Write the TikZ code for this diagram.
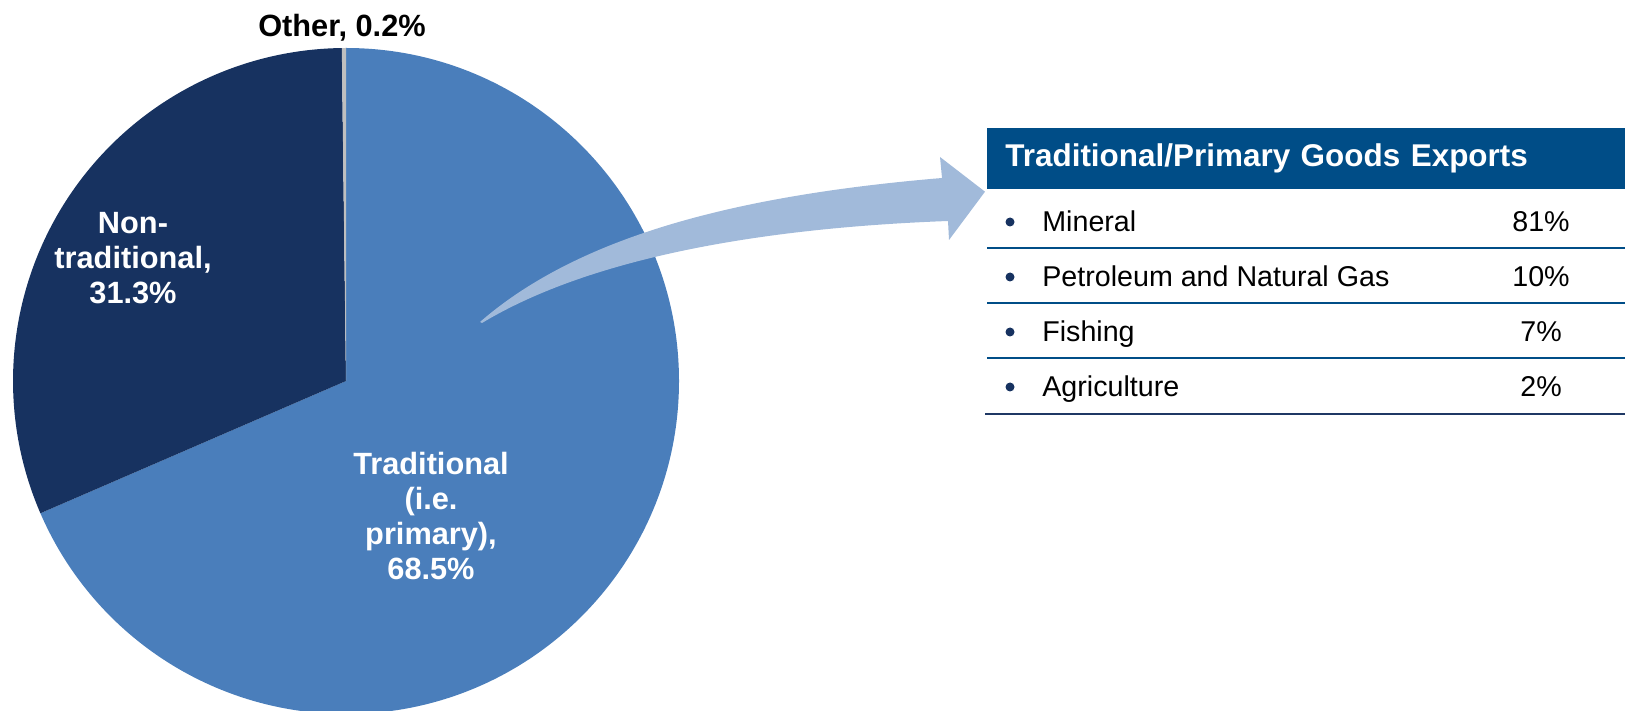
\documentclass[tikz,border=0pt]{standalone}
\usepackage{fontspec}
\setmainfont{Liberation Sans}
\usetikzlibrary{positioning}
\definecolor{tradblue}{RGB}{74,126,187}
\definecolor{nontradblue}{RGB}{23,50,96}
\definecolor{othergray}{RGB}{191,191,191}
\definecolor{arrowblue}{RGB}{161,186,218}
\definecolor{hdrblue}{RGB}{0,77,135}
\definecolor{rulenavy}{RGB}{31,56,100}

\begin{document}
\begin{tikzpicture}[x=0.02cm,y=0.02cm,
   pielabel/.style={font=\bfseries\fontsize{17.5}{19.8}\selectfont,text=white,align=center,inner sep=0pt},
   rowtext/.style={font=\fontsize{16.3}{19}\selectfont,inner sep=0pt}]
   \useasboundingbox (0,0) rectangle (1625,710);
   % pie
   \coordinate (c) at (346,329);
   \fill[tradblue] (c) -- ++(90:333) arc[start angle=90,end angle=-156.6,radius=333] -- cycle;
   \fill[nontradblue] (c) -- ++(203.4:333) arc[start angle=203.4,end angle=90.72,radius=333] -- cycle;
   \fill[othergray] (c) -- ++(90.72:333) arc[start angle=90.72,end angle=90,radius=333] -- cycle;
   \node[pielabel] (nontrad) at (133,452) {Non-\\traditional,\\31.3\%};
   \node[pielabel] (trad) at (431,194) {Traditional\\(i.e.\\primary),\\68.5\%};
   \node[pielabel,text=black,anchor=base] (other) at (342,673) {Other, 0.2\%};
   % table
   \node[fill=hdrblue,text=white,anchor=north west,minimum width=12.76cm,minimum height=1.22cm,
         inner xsep=0.36cm,text width=12.04cm,align=left,
         font=\bfseries\fontsize{17.9}{20}\selectfont] (hdr) at (987,582) {Traditional/Primary Goods Exports};
   \foreach \item/\val [count=\i] in {Mineral/81\%,Petroleum and Natural Gas/10\%,Fishing/7\%,Agriculture/2\%}{
      \fill[nontradblue] (1010,488-55*\i+55) circle[radius=4.5];
      \node[rowtext,anchor=base west] (item\i) at (1042,478-55*\i+55) {\item};
      \node[rowtext,anchor=base] (val\i) at (1541,478-55*\i+55) {\val};
   }
   \foreach \i in {1,2,3}
      \draw[hdrblue,line width=1.2pt] (987,462-55*\i+55) -- (1625,462-55*\i+55);
   \draw[rulenavy,line width=1.5pt] (985,296) -- (1625,296);
   % arrow
   \coordinate (tail) at (480,388);
   \coordinate (tip) at ([xshift=-0.04cm,yshift=-0.04cm]hdr.south west);
   \fill[arrowblue] (tail) .. controls (580,475) and (740,515) .. (942,532) -- (940,553) -- (tip)
      -- (949,470) -- (948,489) .. controls (760,482) and (590,452) .. (482,387) -- cycle;
\end{tikzpicture}
\end{document}
